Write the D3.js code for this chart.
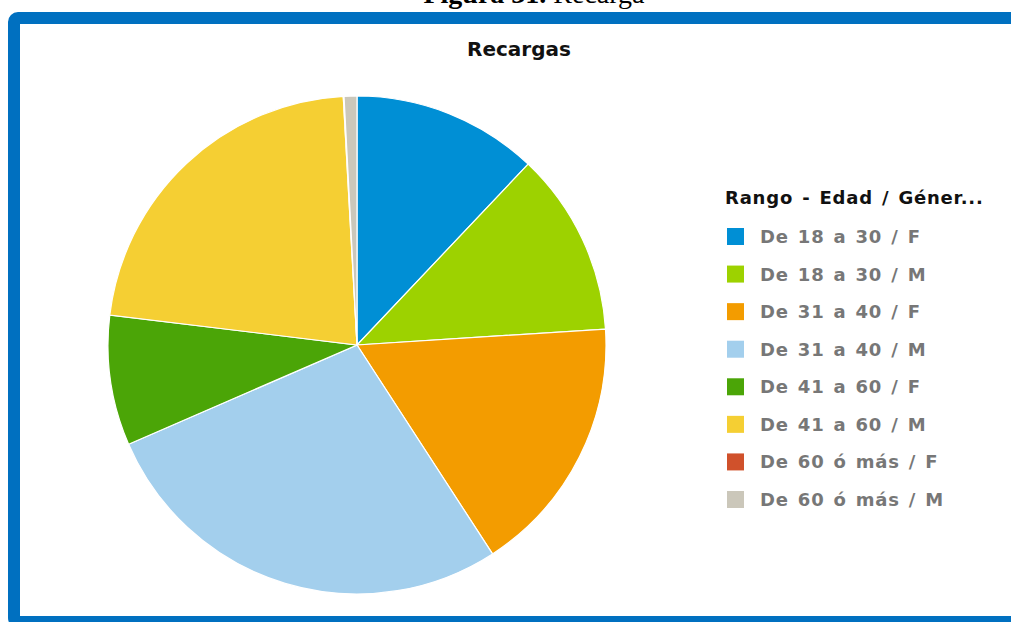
<!DOCTYPE html>
<html>
<head>
<meta charset="utf-8">
<script src="https://cdn.jsdelivr.net/npm/d3@7"></script>
<style>
  body { margin: 0; background: #fff; }
  svg { display: block; }
</style>
</head>
<body>
<div id="chart"></div>
<script>
// slice data (share of total, in %)
const categories = [
    "De 18 a 30 / F", "De 18 a 30 / M", "De 31 a 40 / F", "De 31 a 40 / M",
    "De 41 a 60 / F", "De 41 a 60 / M", "De 60 ó más / F", "De 60 ó más / M"
];
const values = [12.06, 11.92, 16.86, 27.64, 8.44, 22.2, 0.05, 0.83];
const colors = ["#008fd5", "#9dd200", "#f39c00", "#a3cfed", "#4ba507", "#f5cf33", "#d0512b", "#cbc7ba"];

const width = 1011;
const height = 622;

const svg = d3.select("#chart").append("svg")
    .attr("width", width)
    .attr("height", height);

// caption above the frame (cut off by the window top)
const caption = svg.append("text")
    .attr("x", 534)
    .attr("y", 3)
    .attr("text-anchor", "middle")
    .style("font-family", "Liberation Serif, serif")
    .style("font-size", "28px");
caption.append("tspan").style("font-weight", "bold").text("Figura 31.");
caption.append("tspan").text(" Recarga");

// blue frame
svg.append("rect")
    .attr("x", 14)
    .attr("y", 18)
    .attr("width", 1100)
    .attr("height", 604)
    .attr("rx", 4)
    .attr("fill", "#fff")
    .attr("stroke", "#0070c0")
    .attr("stroke-width", 12);

// title
svg.append("text")
    .attr("x", 519)
    .attr("y", 56)
    .attr("text-anchor", "middle")
    .style("font-family", "DejaVu Sans, sans-serif")
    .style("font-weight", "bold")
    .style("font-size", "20px")
    .style("fill", "#111")
    .text("Recargas");

const color = d3.scaleOrdinal().domain(categories).range(colors);

const pie = d3.pie().sort(null).value(d => d.value);
const arc = d3.arc().innerRadius(0).outerRadius(249);

const slices = categories.map((c, i) => ({ name: c, value: values[i] }));

svg.append("g")
    .attr("transform", "translate(357,345)")
    .selectAll("path")
    .data(pie(slices))
    .enter().append("path")
    .attr("d", arc)
    .attr("fill", d => color(d.data.name))
    .attr("stroke", "#fff")
    .attr("stroke-width", 1.2);

// legend
const legend = svg.append("g").attr("transform", "translate(725,0)");

legend.append("text")
    .attr("x", 0)
    .attr("y", 204)
    .style("font-family", "DejaVu Sans, sans-serif")
    .style("font-weight", "bold")
    .style("font-size", "18px")
    .style("letter-spacing", "0.8px")
    .style("word-spacing", "2px")
    .style("fill", "#111")
    .text("Rango - Edad / Géner...");

const rowY = d3.scalePoint().domain(categories).range([236, 499]);

const rows = legend.selectAll(".row")
    .data(categories)
    .enter().append("g")
    .attr("transform", d => `translate(0,${rowY(d)})`);

rows.append("rect")
    .attr("x", 2)
    .attr("y", -8)
    .attr("width", 17)
    .attr("height", 17)
    .attr("fill", d => color(d));

rows.append("text")
    .attr("x", 35)
    .attr("y", 7)
    .style("font-family", "DejaVu Sans, sans-serif")
    .style("font-weight", "bold")
    .style("font-size", "18px")
    .style("letter-spacing", "0.8px")
    .style("word-spacing", "2px")
    .style("fill", "#777")
    .text(d => d);
</script>
</body>
</html>
